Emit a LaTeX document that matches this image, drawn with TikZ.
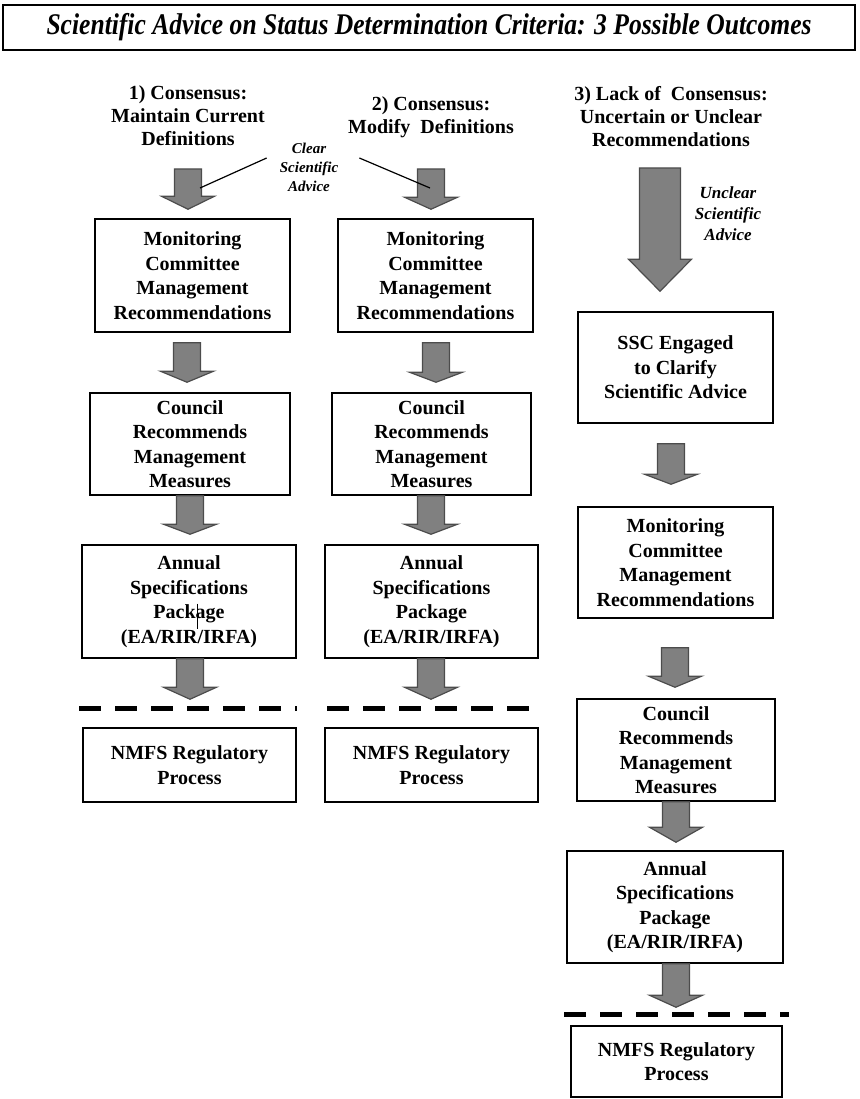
\documentclass[tikz,border=0pt]{standalone}
\usepackage{fontspec}
\setmainfont{Liberation Serif}
\usetikzlibrary{calc}

\newcommand{\blockarrow}[5]{%
  \draw[blockarr] let \p1=#1, \p2=#2 in
    (\x1-#3,\y1) -- (\x1+#3,\y1) -- (\x1+#3,\y2+#5) -- (\x1+#4,\y2+#5)
    -- (\x1,\y2) -- (\x1-#4,\y2+#5) -- (\x1-#3,\y2+#5) -- cycle;}

\begin{document}
\begin{tikzpicture}[x=1pt,y=-1pt,
  box/.style={draw, line width=1.5pt, align=center, inner sep=0pt,
    font=\bfseries\fontsize{20}{24.5}\selectfont},
  head/.style={align=center, inner sep=0pt, font=\bfseries\fontsize{20}{23}\selectfont},
  note/.style={align=center, inner sep=0pt, font=\bfseries\itshape\fontsize{15}{19}\selectfont},
  blockarr/.style={draw=black!70, fill=black!50, line width=1.2pt},
  sepline/.style={line width=5pt, dash pattern=on 22pt off 14pt},
  pointer/.style={line width=1.2pt}]
\useasboundingbox (0,0) rectangle (859,1099);

\node[draw, line width=2pt, minimum width=852pt, minimum height=45pt, inner sep=0pt] (title) at (429,27.5)
  {\resizebox{765pt}{\height}{\fontsize{30}{30}\selectfont\bfseries\itshape Scientific Advice on Status Determination Criteria: 3 Possible Outcomes}};

\node[head] (head1) at (188,116) {1) Consensus:\\Maintain Current\\Definitions};
\node[head] (head2) at (431,117) {2) Consensus:\\Modify\ \ Definitions};
\node[head] (head3) at (671,117) {3) Lack of\ \ Consensus:\\Uncertain or Unclear\\Recommendations};

\node[note] (clear) at (309,167) {Clear\\Scientific\\Advice};
\node[note, font=\bfseries\itshape\fontsize{17}{21}\selectfont] (unclear) at (728,214) {Unclear\\Scientific\\Advice};

% column 1
\node[box, minimum width=195pt, minimum height=113pt] (mon1) at (192.5,275.5) {Monitoring\\Committee\\Management\\Recommendations};
\node[box, minimum width=200pt, minimum height=102pt] (cou1) at (190,444) {Council\\Recommends\\Management\\Measures};
\node[box, minimum width=214pt, minimum height=113pt] (ann1) at (189,601.5) {Annual\\Specifications\\Package\\(EA/RIR/IRFA)};
\node[box, minimum width=213pt, minimum height=74pt] (nm1) at (189.5,765) {NMFS Regulatory\\Process};

% column 2
\node[box, minimum width=195pt, minimum height=113pt] (mon2) at (435.5,275.5) {Monitoring\\Committee\\Management\\Recommendations};
\node[box, minimum width=199pt, minimum height=102pt] (cou2) at (431.5,444) {Council\\Recommends\\Management\\Measures};
\node[box, minimum width=213pt, minimum height=113pt] (ann2) at (431.5,601.5) {Annual\\Specifications\\Package\\(EA/RIR/IRFA)};
\node[box, minimum width=213pt, minimum height=74pt] (nm2) at (431.5,765) {NMFS Regulatory\\Process};

% column 3
\node[box, minimum width=195pt, minimum height=111pt] (ssc) at (675.5,367.5) {SSC Engaged\\to Clarify\\Scientific Advice};
\node[box, minimum width=195pt, minimum height=111pt] (mon3) at (675.5,562.5) {Monitoring\\Committee\\Management\\Recommendations};
\node[box, minimum width=198pt, minimum height=102pt] (cou3) at (676,750) {Council\\Recommends\\Management\\Measures};
\node[box, minimum width=216pt, minimum height=112pt] (ann3) at (675,907) {Annual\\Specifications\\Package\\(EA/RIR/IRFA)};
\node[box, minimum width=211pt, minimum height=71pt] (nm3) at (676.5,1061.5) {NMFS Regulatory\\Process};

\coordinate (a1s) at (188,169);
\coordinate (a2s) at (431,169);
\coordinate (a3s) at (660,168);

\blockarrow{(a1s)}{($(mon1.north)+(0,-9)$)}{13.5pt}{26.5pt}{13pt}
\blockarrow{($(mon1.south)+(-5.5,10)$)}{($(cou1.north)+(0,-10)$)}{13.5pt}{26.5pt}{11pt}
\blockarrow{(cou1.south)}{($(ann1.north)+(0,-10)$)}{13.5pt}{26.5pt}{10pt}
\blockarrow{($(ann1.south)+(1,0)$)}{($(nm1.north)+(0,-28)$)}{13.5pt}{26.5pt}{12pt}

\blockarrow{(a2s)}{($(mon2.north)+(0,-9)$)}{13.5pt}{26.5pt}{12pt}
\blockarrow{($(mon2.south)+(0.5,10)$)}{($(cou2.north)+(0,-10)$)}{13.5pt}{26.5pt}{10pt}
\blockarrow{($(cou2.south)+(-0.5,0)$)}{($(ann2.north)+(0,-10)$)}{13.5pt}{26.5pt}{10pt}
\blockarrow{($(ann2.south)+(-0.5,0)$)}{($(nm2.north)+(0,-28)$)}{13.5pt}{26.5pt}{12pt}

\blockarrow{(a3s)}{($(ssc.north)+(0,-20)$)}{20.5pt}{31.5pt}{32pt}
\blockarrow{($(ssc.south)+(-4.5,20)$)}{($(mon3.north)+(0,-22)$)}{13.5pt}{26.5pt}{10pt}
\blockarrow{($(mon3.south)+(-0.5,29)$)}{($(cou3.north)+(0,-11)$)}{13.5pt}{26.5pt}{11pt}
\blockarrow{(cou3.south)}{($(ann3.north)+(0,-8)$)}{13.5pt}{26.5pt}{15pt}
\blockarrow{($(ann3.south)+(1,0)$)}{($(nm3.north)+(0,-18)$)}{13.5pt}{26.5pt}{12pt}

\coordinate (p1) at (200,188);
\coordinate (p2) at (430,188);
\draw[pointer] ($(clear.west)+(-13,-9)$) -- (p1);
\draw[pointer] ($(clear.east)+(21,-9)$) -- (p2);

\draw[sepline] ($(nm1.north west)+(-3,-19)$) -- ($(nm1.north east)+(0,-19)$);
\draw[sepline] ($(nm2.north west)+(3,-19)$) -- ($(nm2.north east)+(-8,-19)$);
\draw[sepline] ($(nm3.north west)+(-6,-11)$) -- ($(nm3.north east)+(6,-11)$);

\draw[line width=0.6pt] ($(ann1.center)+(8,2)$) -- ($(ann1.center)+(8,27)$);
\end{tikzpicture}
\end{document}
